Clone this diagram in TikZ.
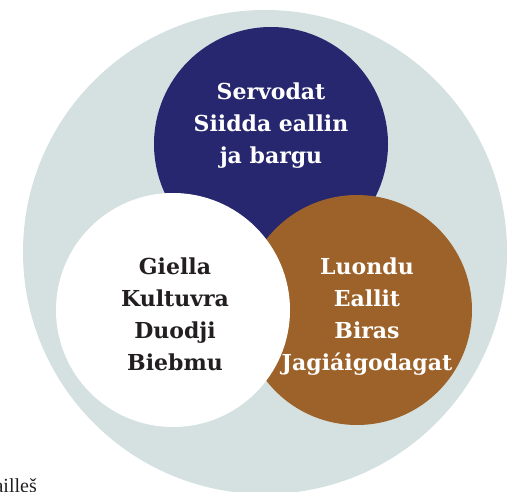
\documentclass[tikz,border=0pt]{standalone}
\usepackage{fontspec}
\setmainfont{DejaVu Serif}
\newfontfamily\slab{DejaVu Serif Bold}
\newfontfamily\pagefont{Liberation Serif}
\definecolor{bgc}{HTML}{D4E1E0}
\definecolor{navyc}{HTML}{27276F}
\definecolor{brownc}{HTML}{9D6229}
\definecolor{darkc}{HTML}{231F20}
\tikzset{
  ring/.style={circle, inner sep=0pt, minimum size=#1},
  label3/.style={align=center, anchor=base, font=\slab\fontsize{22}{32}\selectfont, inner sep=0pt},
}
\begin{document}
\begin{tikzpicture}[x=1pt,y=-1pt]
\useasboundingbox (0,0) rectangle (520,492);
\node[ring=484pt, fill=bgc] (outer) at (265,252) {};
\node[ring=234pt, fill=navyc] (serv) at (271,144) {};
\node[ring=230pt, fill=brownc] (luon) at (357,310) {};
\node[ring=234pt, fill=white] (giel) at (173,310) {};
\node[label3, text=white] (servt) at (271,164) {Servodat\\Siidda eallin\\ja bargu};
\node[label3, text=darkc] (gielt) at (175,370) {Giella\\Kultuvra\\Duodji\\Biebmu};
\node[label3, text=white] (luont) at (367,370) {Luondu\\Eallit\\Biras\\Jagiáigodagat};
\node[anchor=base east, inner sep=0pt, text=darkc, font=\pagefont\fontsize{20}{22}\selectfont] (cut) at (37,492) {ailleš};
\end{tikzpicture}
\end{document}
